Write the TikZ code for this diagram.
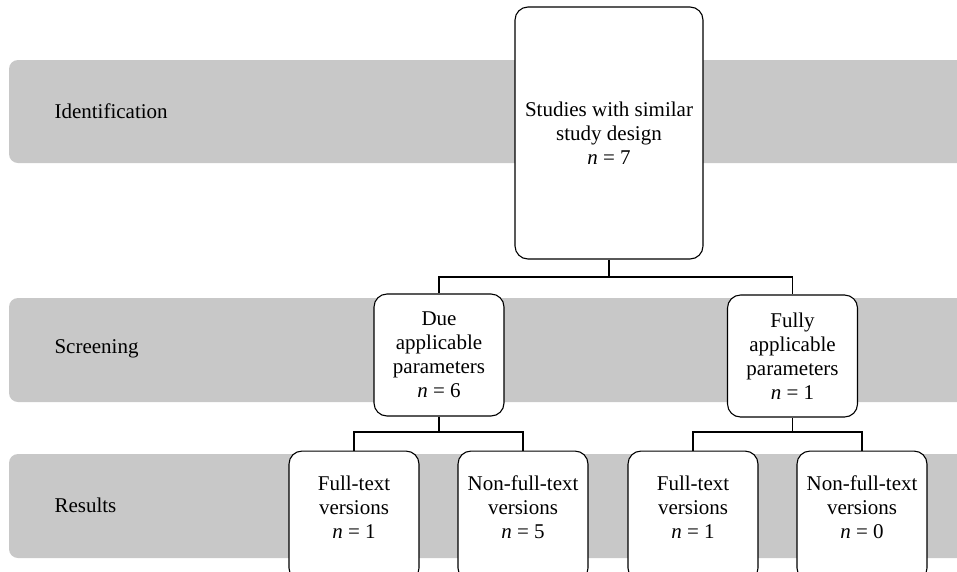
\documentclass[tikz,border=0pt]{standalone}
\usepackage{fontspec}
\setmainfont{Liberation Serif}
\definecolor{bandgray}{RGB}{200,200,200}
\begin{document}
\begin{tikzpicture}[x=1pt,y=-1pt,
  band/.style={fill=bandgray, rounded corners=9pt},
  rbox/.style={draw=black, fill=white, line width=1.1pt, rounded corners=13pt, inner sep=0pt},
  txt/.style={align=center, font=\fontsize{21}{24}\selectfont},
  lbl/.style={anchor=west, font=\fontsize{21}{24}\selectfont},
  conn/.style={draw=black, line width=1.1pt}
]
\useasboundingbox (0,0) rectangle (957,571);
\clip (0,0) rectangle (957,571);
% bands
\path[band] (9,60) rectangle (980,163);
\path[band] (9,298) rectangle (980,402);
\path[band] (9,454) rectangle (980,558);
\node[lbl] (lid) at (51,111) {Identification};
\node[lbl] (lsc) at (51,349) {Screening};
\node[lbl] (lre) at (51,505) {Results};
% boxes
\node[rbox, txt, minimum width=188pt, minimum height=252pt] (top) at (609,133) {Studies with similar\\study design\\\textit{n} = 7};
\node[rbox, txt, minimum width=130pt, minimum height=122pt] (due) at (439,355) {Due\\applicable\\parameters\\\textit{n} = 6};
\node[rbox, txt, minimum width=130pt, minimum height=122pt] (fully) at (792.5,356) {Fully\\applicable\\parameters\\\textit{n} = 1};
\node[rbox, minimum width=130pt, minimum height=130pt, anchor=north] (r1) at (354,450.5) {};
\node[rbox, minimum width=130pt, minimum height=130pt, anchor=north] (r2) at (523,450.5) {};
\node[rbox, minimum width=130pt, minimum height=130pt, anchor=north] (r3) at (693,450.5) {};
\node[rbox, minimum width=130pt, minimum height=130pt, anchor=north] (r4) at (862,450.5) {};
\node[txt] (t1) at (354,507) {Full-text\\versions\\\textit{n} = 1};
\node[txt] (t2) at (523,507) {Non-full-text\\versions\\\textit{n} = 5};
\node[txt] (t3) at (693,507) {Full-text\\versions\\\textit{n} = 1};
\node[txt] (t4) at (862,507) {Non-full-text\\versions\\\textit{n} = 0};
% connectors
\coordinate (j0) at (609,277);
\coordinate (j1) at (439,432);
\coordinate (j2) at (792.5,432);
\draw[conn] (top.south) -- (j0) -| (due.north);
\draw[conn] (j0) -| (fully.north);
\draw[conn] (due.south) -- (j1) -| (r1.north);
\draw[conn] (j1) -| (r2.north);
\draw[conn] (fully.south) -- (j2) -| (r3.north);
\draw[conn] (j2) -| (r4.north);
\end{tikzpicture}
\end{document}
